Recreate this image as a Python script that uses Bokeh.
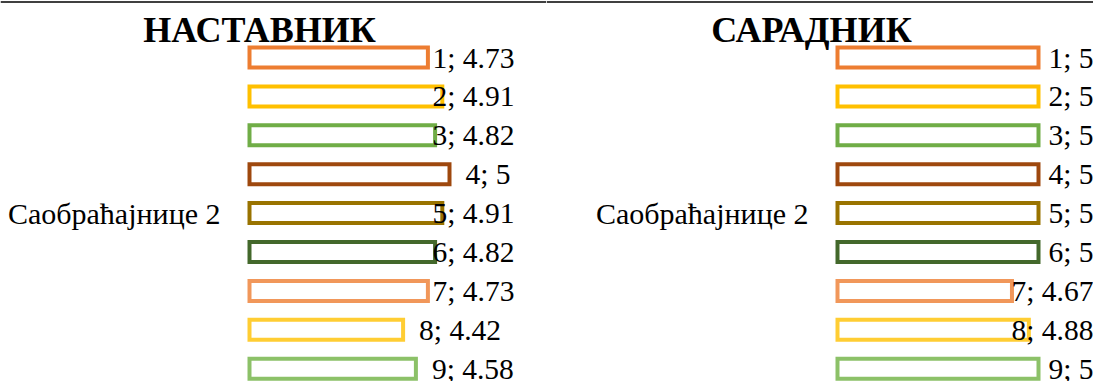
from bokeh.plotting import figure
from bokeh.layouts import row
from bokeh.models import Range1d, Label, Span, ColumnDataSource
from bokeh.core.properties import value
from bokeh.embed import file_html
from bokeh.resources import INLINE

# ---------------- data ----------------
category = "Саобраћајнице 2"
series_ids = [1, 2, 3, 4, 5, 6, 7, 8, 9]
nastavnik = [4.73, 4.91, 4.82, 5, 4.91, 4.82, 4.73, 4.42, 4.58]
saradnik = [5, 5, 5, 5, 5, 5, 4.67, 4.88, 5]
panel_titles = ["НАСТАВНИК", "САРАДНИК"]
colors = ["#ED7D31", "#FFC000", "#70AD47", "#9E480E", "#997300",
          "#43682B", "#F1975A", "#FFCD33", "#8CC168"]
AXIS_MIN = 2.5

# ---------------- layout (pixels) ----------------
H = 381
ROW0_PX = 57.0      # centre of first bar from top
ROW_STEP = 38.9     # distance between bar centres
BAR_PX = 20.0       # bar height (stroke centre to stroke centre)
FONT = "Liberation Serif"
LABEL_PX = 29.5
LABEL_GAP = 14.0
# approximate Times/Liberation Serif advance widths (em)
CHAR_EM = {";": 0.278, " ": 0.25, ".": 0.25}


def text_width(s):
    return LABEL_PX * sum(CHAR_EM.get(ch, 0.5) for ch in s)


def make_panel(values, title, fig_w, base_px, px_per_unit, title_cx, right_limit):
    xs = AXIS_MIN - base_px / px_per_unit
    xe = xs + fig_w / px_per_unit
    ys = 1 + (H - ROW0_PX) / ROW_STEP      # bottom
    ye = 1 - ROW0_PX / ROW_STEP            # top

    def ydata(px):
        return 1 + (px - ROW0_PX) / ROW_STEP

    def xdata(px):
        return xs + px / px_per_unit

    p = figure(width=fig_w, height=H, x_range=Range1d(xs, xe),
               y_range=Range1d(ys, ye), output_backend="svg",
               toolbar_location=None, min_border_left=0, min_border_right=0,
               min_border_top=0, min_border_bottom=0,
               x_axis_location=None, y_axis_location=None,
               title_location=None, outline_line_color=None,
               background_fill_color="white", border_fill_color="white")
    p.xgrid.visible = False
    p.ygrid.visible = False

    labels = [f"{i}; {v:g}" for i, v in zip(series_ids, values)]
    # labels sit just outside the bar end, but are pushed back inside the
    # plot area when they would run past its right edge
    offsets = []
    for v, s in zip(values, labels):
        end_px = (v - xs) * px_per_unit + 2
        offsets.append(min(LABEL_GAP, right_limit - end_px - text_width(s)) + 2)

    src = ColumnDataSource(dict(y=series_ids, v=values, c=colors,
                                lbl=labels, off=offsets))

    p.hbar(y="y", left=AXIS_MIN, right="v", height=BAR_PX / ROW_STEP,
           fill_color=None, line_color="c", line_width=4, line_join="miter",
           source=src)
    p.text(x="v", y="y", text="lbl", x_offset="off", text_align="left",
           text_baseline="middle", text_font=value(FONT),
           text_font_size=f"{LABEL_PX}px", text_color="black", source=src)

    mid = series_ids[len(series_ids) // 2]
    p.add_layout(Label(x=AXIS_MIN, y=mid, x_offset=-29, text=category,
                       text_align="right", text_baseline="middle",
                       text_font=FONT, text_font_size="30px",
                       text_color="black"))
    p.add_layout(Label(x=xdata(title_cx), y=ydata(29), text=title,
                       text_align="center", text_baseline="middle",
                       text_font=FONT, text_font_style="bold",
                       text_font_size="36px", text_color="black"))

    # top table border
    p.add_layout(Span(location=ydata(1.5), dimension="width",
                      line_color="black", line_width=1.5))
    return p


W1 = 546
W2 = 1093 - W1
p1 = make_panel(nastavnik, panel_titles[0], W1, 249, 80.0, 259, 514)
p2 = make_panel(saradnik, panel_titles[1], W2, 837 - W1, 80.4, 811 - W1, W2)

layout = row(p1, p2, spacing=0)
html = file_html(layout, INLINE)
html = html.replace("<body>", '<body style="margin:0">', 1)
open("out.html", "w").write(html)
